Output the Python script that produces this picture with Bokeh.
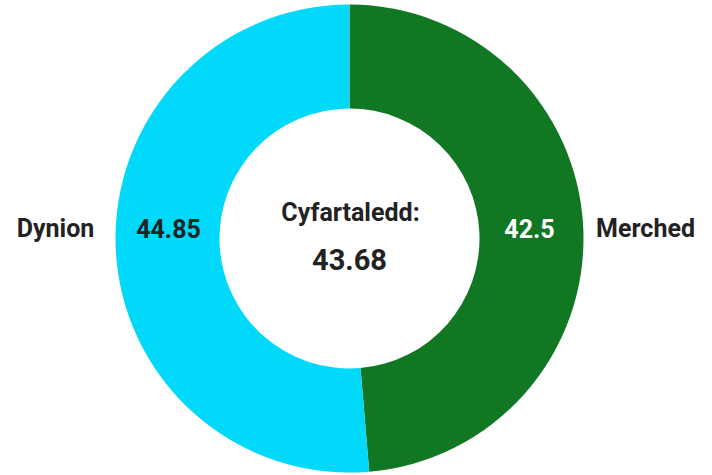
import math
from bokeh.plotting import figure
from bokeh.models import ColumnDataSource, Range1d
from bokeh.core.properties import value
from bokeh.embed import file_html
from bokeh.resources import INLINE

categories = ["Merched", "Dynion"]
values = [42.5, 44.85]
value_labels = ["42.5", "44.85"]
colors = ["#117722", "#00D9F9"]
label_colors = ["#FFFFFF", "#222222"]
center_title = "Cyfartaledd:"
center_value = "43.68"

W, H = 712, 475
cx, cy = 349, 237
r_out, r_in = 234, 130

total = sum(values)
starts, ends = [], []
a = math.pi / 2
for v in values:
    starts.append(a)
    a = a - 2 * math.pi * v / total
    ends.append(a)

src = ColumnDataSource(dict(cat=categories, val=values, start=starts, end=ends, color=colors))

p = figure(width=W, height=H, output_backend="svg", toolbar_location=None,
           x_range=Range1d(0, W), y_range=Range1d(0, H), min_border=0)
p.axis.visible = False
p.grid.visible = False
p.outline_line_color = None
p.background_fill_color = "white"
p.border_fill_color = "white"

p.annular_wedge(x=cx, y=cy, inner_radius=r_in, outer_radius=r_out,
                start_angle="start", end_angle="end", direction="clock",
                fill_color="color", line_color=None, source=src)

# value labels inside ring
lx = [cx + 180, cx - 181]
ly = [cy + 10, cy + 10]
p.text(x=lx, y=ly, text=value_labels, text_color=label_colors,
       text_font=value("Roboto"), text_font_style="bold", text_font_size="25px",
       text_align="center", text_baseline="middle")

# category labels outside ring
ox = [cx + 296, cx - 294]
p.text(x=ox, y=ly, text=categories, text_color="#222222",
       text_font=value("Roboto"), text_font_style="bold", text_font_size="25px",
       text_align="center", text_baseline="middle")

# center text
p.text(x=[cx + 1], y=[cy + 26], text=[center_title], text_color="#222222",
       text_font=value("Roboto"), text_font_style="bold", text_font_size="25px",
       text_align="center", text_baseline="middle")
p.text(x=[cx], y=[cy - 21], text=[center_value], text_color="#222222",
       text_font=value("Roboto"), text_font_style="bold", text_font_size="29px",
       text_align="center", text_baseline="middle")

open("out.html", "w").write(file_html(p, INLINE))
